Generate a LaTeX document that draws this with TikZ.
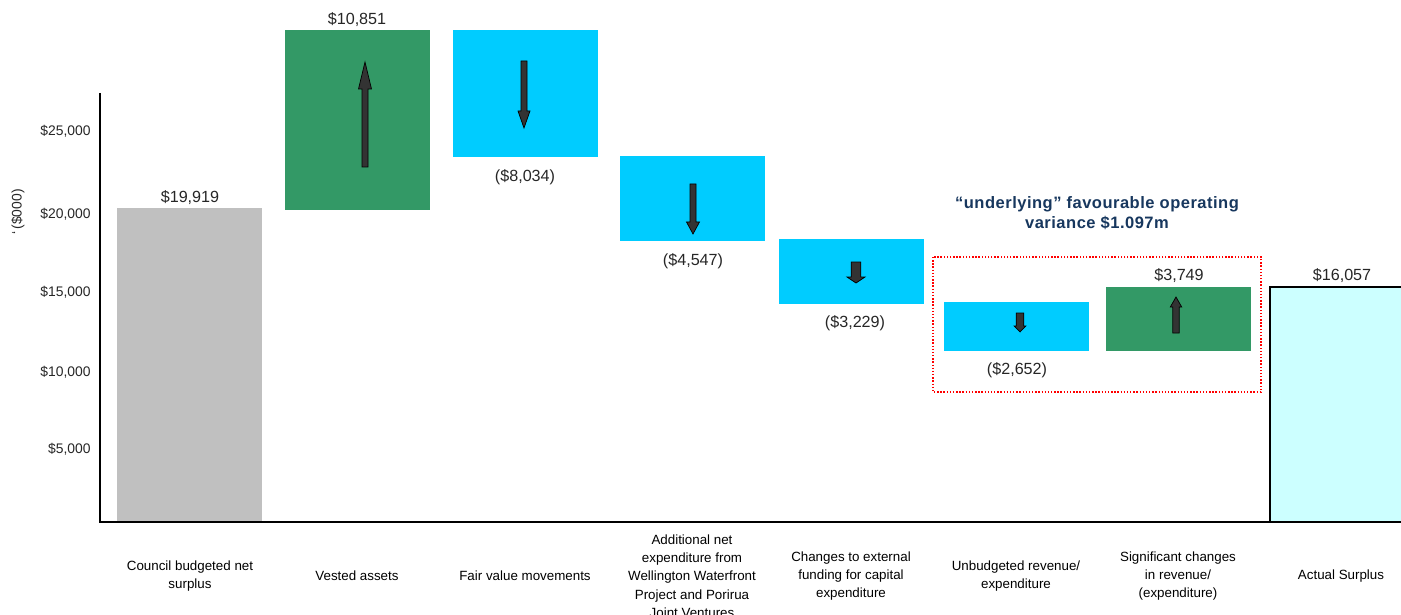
\documentclass[tikz,border=0pt]{standalone}
\usepackage{fontspec}
\setmainfont{Liberation Sans}

\definecolor{barGray}{RGB}{192,192,192}
\definecolor{barGreen}{RGB}{51,153,102}
\definecolor{barCyan}{RGB}{0,204,255}
\definecolor{barPale}{RGB}{204,255,255}
\definecolor{arrowGray}{RGB}{51,51,51}
\definecolor{noteBlue}{RGB}{23,55,94}

\tikzset{
    val/.style={font=\fontsize{9.2}{10}\selectfont,text=black!85,inner sep=0pt},
    ylab/.style={font=\fontsize{7.9}{9}\selectfont,text=black!85,anchor=east,inner sep=0pt},
    cat/.style={font=\fontsize{7.6}{10.4}\selectfont,align=center,inner sep=0pt},
    note/.style={font=\fontsize{9.4}{11.4}\bfseries\selectfont\addfontfeature{LetterSpace=3},text=noteBlue,align=center,inner sep=0pt}
}

% x, tail y, head base y, tip y, half shaft, half head
\newcommand{\bigarrow}[6]{\filldraw[fill=arrowGray,draw=black,line width=0.4pt](#1-#5,#2)--(#1-#5,#3)--(#1-#6,#3)--(#1,#4)--(#1+#6,#3)--(#1+#5,#3)--(#1+#5,#2)--cycle;}

\begin{document}
\begin{tikzpicture}[x=0.02cm,y=-0.02cm]
    \useasboundingbox(0,0)rectangle(1401,615);

    % bars
    \fill[barGray](117,208)rectangle(262,522);
    \fill[barGreen](285,30)rectangle(430,210);
    \fill[barCyan](453,30)rectangle(598,157);
    \fill[barCyan](620,156)rectangle(765,241);
    \fill[barCyan](779,239)rectangle(924,304);
    \fill[barCyan](944,302)rectangle(1089,351);
    \fill[barGreen](1106,287)rectangle(1251,351);
    \filldraw[fill=barPale,draw=black,line width=0.9pt](1270,522)--(1270,287)--(1405,287)--(1405,522);

    % axes
    \draw[line width=1.2pt](100,93)--(100,522)--(1405,522);
    \foreach \v/\y in {25/131,20/214,15/292,10/372,5/449}
        \node[ylab](y\v) at (91,\y){\$\v,000};
    \node[ylab,anchor=center,rotate=90](yunit) at (18,212){`\,(\$000)};

    % arrows
    \bigarrow{365}{167}{89}{62}{3}{6.5}
    \bigarrow{524}{61}{111}{128}{3}{6}
    \bigarrow{693}{184}{222}{234}{3}{6.5}
    \bigarrow{856}{262}{277}{283}{4.8}{9}
    \bigarrow{1020}{313}{326}{332}{3.8}{5.8}
    \bigarrow{1176}{333}{307}{297}{3.2}{5.7}

    % values
    \node[val](v1) at (190,198){\$19,919};
    \node[val](v2) at (357,20){\$10,851};
    \node[val](v3) at (525,177){(\$8,034)};
    \node[val](v4) at (693,261){(\$4,547)};
    \node[val](v5) at (855,323){(\$3,229)};
    \node[val](v6) at (1017,370){(\$2,652)};
    \node[val](v7) at (1179,276){\$3,749};
    \node[val](v8) at (1342,276){\$16,057};

    % underlying variance
    \draw[red,densely dotted,line width=0.8pt](933,257)rectangle(1261,392);
    \node[note](note) at (1097,213){“underlying” favourable operating\\variance \$1.097m};

    % categories
    \node[cat](c1) at (190,576){Council budgeted net\\surplus};
    \node[cat](c2) at (357,576){Vested assets};
    \node[cat](c3) at (525,576){Fair value movements};
    \node[cat](c4) at (692,576){Additional net\\expenditure from\\Wellington Waterfront\\Project and Porirua\\Joint Ventures};
    \node[cat](c5) at (851,576){Changes to external\\funding for capital\\expenditure};
    \node[cat](c6) at (1016,576){Unbudgeted revenue/\\expenditure};
    \node[cat](c7) at (1178,576){Significant changes\\in revenue/\\(expenditure)};
    \node[cat](c8) at (1341,576){Actual Surplus};
\end{tikzpicture}
\end{document}
